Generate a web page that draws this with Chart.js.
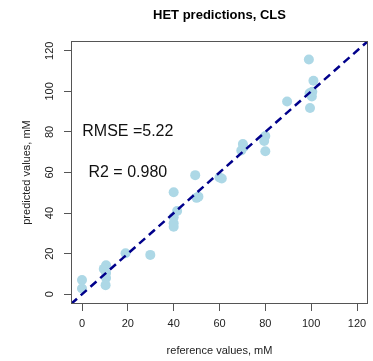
<!DOCTYPE html>
<html>
<head>
<meta charset="utf-8">
<script src="https://cdn.jsdelivr.net/npm/chart.js@4/dist/chart.umd.min.js"></script>
<style>
  html, body { margin: 0; padding: 0; background: #fff; }
  #wrap { width: 373px; height: 361px; }
</style>
</head>
<body>
<div id="wrap"><canvas id="c" width="373" height="361"></canvas></div>
<script>
// ---- data ----
const referenceValues = [0, 0, 10.5, 9.5, 10.5, 10.5, 10.3, 19, 29.8, 40, 41.5, 40, 40, 40, 49.4, 50, 50.8, 60, 61, 70.2, 69.5, 70.5, 80, 79.5, 80, 89.5, 99, 101, 100.5, 99.3, 100.3, 99.5];
const predictedValues = [7, 2.8, 14.3, 12.5, 10.5, 8, 4.5, 20.2, 19.4, 50.3, 41, 38, 35, 33.3, 58.7, 47.5, 48.1, 57.5, 57, 74, 70.8, 72.5, 78, 75.5, 70.5, 95, 115.7, 105.2, 99.8, 99, 97.5, 91.8];
const identityLine = [-4.8, 124.8];
const tickValues = [0, 20, 40, 60, 80, 100, 120];
const axisRange = [-4.8, 124.8];
const chartTitle = "HET predictions, CLS";
const xAxisTitle = "reference values, mM";
const yAxisTitle = "predicted values, mM";
const annotationTexts = ["RMSE =5.22", "R2 = 0.980"];
const annotationX = [20, 20];
const annotationY = [80, 60];

const FONT = "'Liberation Sans', Arial, Helvetica, sans-serif";
Chart.defaults.font.family = FONT;

const points = referenceValues.map((x, i) => ({ x: x, y: predictedValues[i] }));
const linePts = identityLine.map(v => ({ x: v, y: v }));

const decor = {
  id: 'decor',
  afterDraw(chart) {
    const ctx = chart.ctx;
    const a = chart.chartArea;
    const xs = chart.scales.x, ys = chart.scales.y;
    ctx.save();
    // plot box
    ctx.strokeStyle = '#555';
    ctx.lineWidth = 1;
    const l = Math.round(a.left) + 0.5, t = Math.round(a.top) + 0.5;
    const r = Math.round(a.right) - 0.5, b = Math.round(a.bottom) - 0.5;
    ctx.strokeRect(l, t, r - l, b - t);
    // title
    ctx.fillStyle = '#000';
    ctx.font = 'bold 13px ' + FONT;
    ctx.textAlign = 'center';
    ctx.textBaseline = 'middle';
    ctx.fillText(chartTitle, (a.left + a.right) / 2, 15);
    // y tick labels (rotated like R)
    ctx.font = '11px ' + FONT;
    ctx.fillStyle = '#222';
    tickValues.forEach(v => {
      const py = ys.getPixelForValue(v);
      ctx.save();
      ctx.translate(50, py);
      ctx.rotate(-Math.PI / 2);
      ctx.fillText(String(v), 0, 0);
      ctx.restore();
    });
    // annotations
    ctx.font = '16px ' + FONT;
    ctx.fillStyle = '#111';
    annotationTexts.forEach((txt, i) => {
      ctx.fillText(txt, xs.getPixelForValue(annotationX[i]), ys.getPixelForValue(annotationY[i]));
    });
    ctx.restore();
  }
};

new Chart(document.getElementById('c'), {
  type: 'scatter',
  data: {
    datasets: [
      {
        type: 'line',
        data: linePts,
        borderColor: '#00008B',
        borderWidth: 2.5,
        borderDash: [8, 5],
        pointRadius: 0,
        fill: false,
        order: 0
      },
      {
        data: points,
        backgroundColor: '#ADD8E6',
        borderWidth: 0,
        pointRadius: 5,
        pointHoverRadius: 5,
        order: 1
      }
    ]
  },
  options: {
    responsive: false,
    animation: false,
    events: [],
    layout: { padding: { top: 41, right: 1, left: 0, bottom: 0 } },
    plugins: { legend: { display: false }, tooltip: { enabled: false }, title: { display: false } },
    scales: {
      x: {
        type: 'linear',
        min: axisRange[0], max: axisRange[1],
        afterBuildTicks: s => { s.ticks = tickValues.map(v => ({ value: v })); },
        afterFit: s => { s.height = 57; },
        grid: { drawOnChartArea: false, drawTicks: true, tickLength: 7, color: '#555' },
        border: { display: false },
        ticks: { padding: 6, color: '#222', font: { size: 11 }, maxRotation: 0, autoSkip: false },
        title: { display: true, text: xAxisTitle, color: '#222', font: { size: 11 }, padding: { top: 0, bottom: 3.4 } }
      },
      y: {
        type: 'linear',
        min: axisRange[0], max: axisRange[1],
        afterBuildTicks: s => { s.ticks = tickValues.map(v => ({ value: v })); },
        afterFit: s => { s.width = 71; },
        grid: { drawOnChartArea: false, drawTicks: true, tickLength: 7, color: '#555' },
        border: { display: false },
        ticks: { display: false },
        title: { display: true, text: yAxisTitle, color: '#222', font: { size: 11 }, padding: { top: 20.4, bottom: 0 } }
      }
    }
  },
  plugins: [decor]
});
</script>
</body>
</html>
